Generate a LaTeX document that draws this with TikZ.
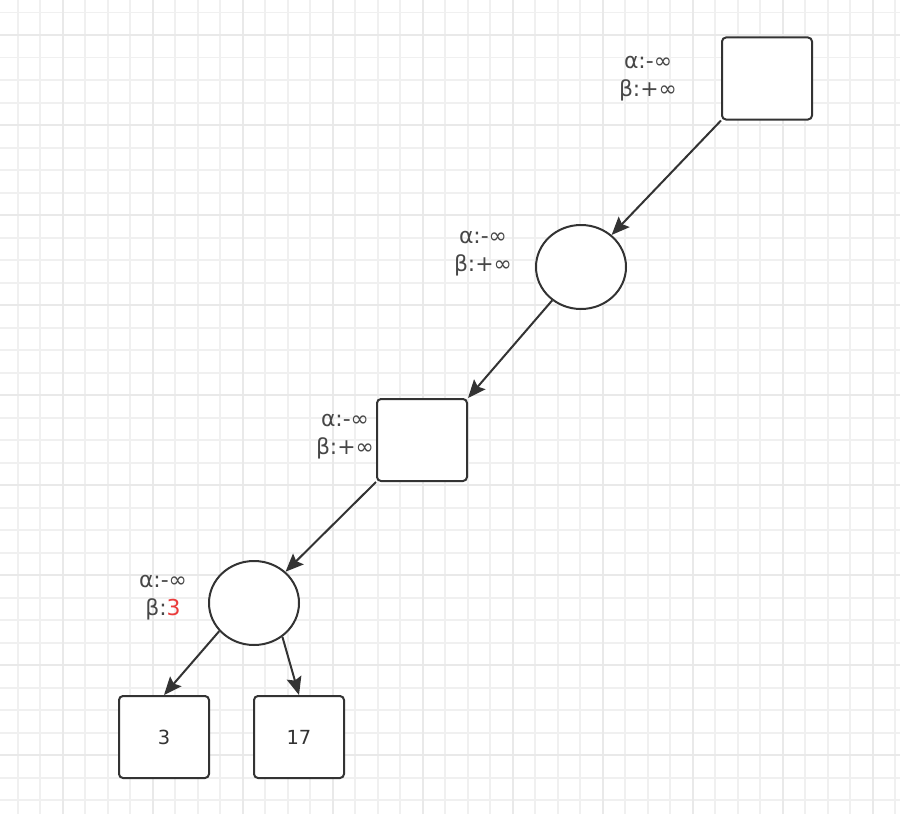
\documentclass[tikz,border=0pt]{standalone}
\usepackage{fontspec}
\setmainfont{DejaVu Sans}
\usetikzlibrary{shapes.geometric,arrows.meta}
\definecolor{ink}{HTML}{333333}
\definecolor{gridminor}{HTML}{F0F0F0}
\definecolor{gridmajor}{HTML}{E9E9E9}
\definecolor{hot}{HTML}{EA3B3B}
\begin{document}
\begin{tikzpicture}[x=1bp,y=-1bp,
  box/.style={draw=ink,line width=2bp,rounded corners=4bp,fill=white,
    minimum width=90bp,minimum height=82bp,inner sep=0pt,
    font=\fontsize{19.5}{24}\selectfont,text=ink},
  roundnode/.style={draw=ink,line width=2bp,ellipse,fill=white,
    minimum width=90bp,minimum height=84bp,inner sep=0pt},
  lbl/.style={align=center,inner sep=0pt,text=ink!90,
    font=\fontsize{22}{28}\selectfont},
  edge/.style={draw=ink,line width=2bp,
    -{Stealth[length=18bp,width=15bp,inset=3bp]}}]
% canvas and background grid
\useasboundingbox (0,0) rectangle (900,814);
\fill[white] (0,0) rectangle (900,814);
\foreach \i in {0,...,39}{
  \pgfmathsetmacro\gx{17.7+22.5*\i}
  \draw[gridminor,line width=1.6bp] (\gx,0) -- (\gx,814);
}
\foreach \j in {0,...,36}{
  \pgfmathsetmacro\gy{12.7+22.5*\j}
  \draw[gridminor,line width=1.6bp] (0,\gy) -- (900,\gy);
}
\foreach \i in {0,...,9}{
  \pgfmathsetmacro\gx{62.7+90*\i}
  \draw[gridmajor,line width=1.8bp] (\gx,0) -- (\gx,814);
}
\foreach \j in {0,...,8}{
  \pgfmathsetmacro\gy{35+90*\j}
  \draw[gridmajor,line width=1.8bp] (0,\gy) -- (900,\gy);
}
% tree nodes
\node[box] (r1) at (767,78.5) {};
\node[roundnode] (c1) at (581,267) {};
\node[box] (r2) at (422,440) {};
\node[roundnode] (c2) at (254,603) {};
\node[box] (l3) at (164,737) {3};
\node[box] (l17) at (299,737) {17};
% alpha/beta annotations
\node[lbl] (t1) at (648,79) {α:-∞\\β:+∞};
\node[lbl] (t2) at (483,254) {α:-∞\\β:+∞};
\node[lbl] (t3) at (345,437) {α:-∞\\β:+∞};
\node[lbl] (t4) at (163,598) {α:-∞\\β:\textcolor{hot}{3}};
% connectors
\draw[edge] (r1.south west) -- (c1);
\draw[edge] (c1) -- (r2.north east);
\draw[edge] (r2.south west) -- (c2);
\draw[edge] (c2.219) -- (l3.north);
\draw[edge] (c2.-50) -- (l17.north);
\end{tikzpicture}
\end{document}
